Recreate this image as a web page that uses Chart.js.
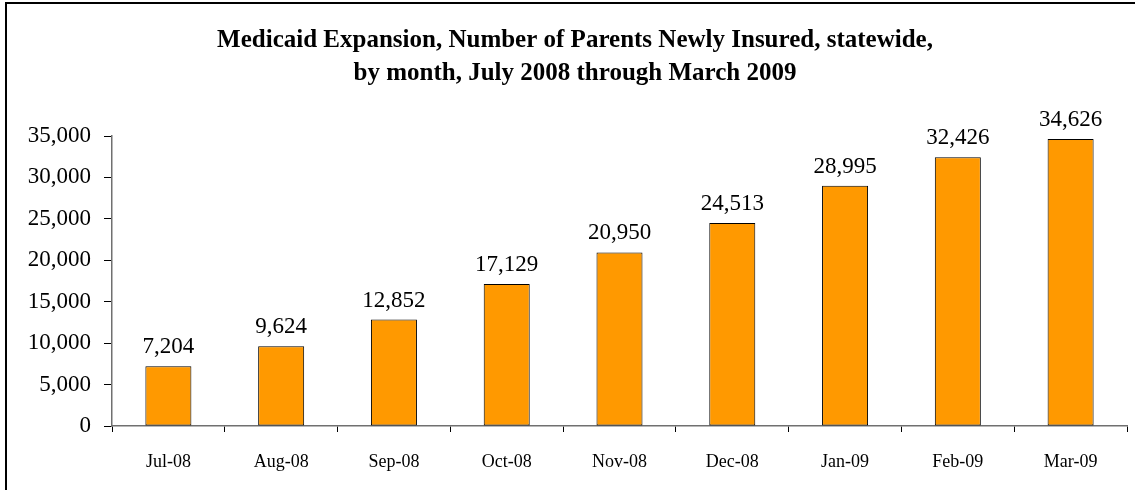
<!DOCTYPE html>
<html>
<head>
<meta charset="utf-8">
<script src="https://cdn.jsdelivr.net/npm/chart.js@4/dist/chart.umd.min.js"></script>
<style>
  html, body { margin: 0; padding: 0; background: #fff; }
  #wrap { position: relative; width: 1135px; height: 490px; }
</style>
</head>
<body>
<div id="wrap"><canvas id="c" width="1135" height="490"></canvas></div>
<script>
const categories = ["Jul-08", "Aug-08", "Sep-08", "Oct-08", "Nov-08", "Dec-08", "Jan-09", "Feb-09", "Mar-09"];
const parentsInsured = [7204, 9624, 12852, 17129, 20950, 24513, 28995, 32426, 34626];
const titleLines = ["Medicaid Expansion, Number of Parents Newly Insured, statewide,", "by month, July 2008 through March 2009"];

const SERIF = "'Liberation Serif', 'Times New Roman', Times, serif";

const frame = {
  id: 'frame',
  beforeDraw(chart) {
    const ctx = chart.ctx;
    ctx.save();
    ctx.fillStyle = '#fff';
    ctx.fillRect(0, 0, chart.width, chart.height);
    ctx.strokeStyle = '#000';
    ctx.lineWidth = 2;
    ctx.beginPath();
    ctx.moveTo(6, chart.height);
    ctx.lineTo(6, 3);
    ctx.lineTo(chart.width, 3);
    ctx.stroke();
    ctx.restore();
  }
};

const valueLabels = {
  id: 'valueLabels',
  afterDatasetsDraw(chart) {
    const ctx = chart.ctx;
    ctx.save();
    ctx.font = "23px " + SERIF;
    ctx.fillStyle = '#000';
    ctx.textAlign = 'center';
    ctx.textBaseline = 'alphabetic';
    const meta = chart.getDatasetMeta(0);
    meta.data.forEach((bar, i) => {
      const v = chart.data.datasets[0].data[i];
      ctx.fillText(v.toLocaleString('en-US'), bar.x, bar.y - 13);
    });
    ctx.restore();
  }
};

new Chart(document.getElementById('c'), {
  type: 'bar',
  data: {
    labels: categories,
    datasets: [{
      data: parentsInsured,
      backgroundColor: '#FF9900',
      borderColor: '#000',
      borderWidth: 1,
      borderSkipped: false,
      barPercentage: 0.408,
      categoryPercentage: 1.0
    }]
  },
  options: {
    responsive: false,
    animation: false,
    devicePixelRatio: 1,
    layout: { padding: { left: 23, right: 8, top: 0, bottom: 0 } },
    plugins: {
      legend: { display: false },
      tooltip: { enabled: false },
      title: {
        display: true,
        text: titleLines,
        color: '#000',
        font: { family: SERIF, size: 25, weight: 'bold', lineHeight: 33 / 25 },
        padding: { top: 24, bottom: 46 }
      }
    },
    scales: {
      x: {
        afterFit(scale) { scale.height = 64; },
        grid: {
          display: true,
          offset: true,
          drawOnChartArea: false,
          drawTicks: true,
          tickLength: 6,
          tickColor: '#000',
          tickWidth: 1
        },
        border: { display: true, color: '#707070', width: 1.5 },
        ticks: {
          color: '#000',
          font: { family: SERIF, size: 18 },
          padding: 19,
          maxRotation: 0,
          autoSkip: false
        }
      },
      y: {
        min: 0,
        max: 35000,
        afterFit(scale) { scale.width = 89; },
        grid: {
          display: true,
          drawOnChartArea: false,
          drawTicks: true,
          tickLength: 8,
          tickColor: '#000',
          tickWidth: 1
        },
        border: { display: true, color: '#707070', width: 1.5 },
        ticks: {
          stepSize: 5000,
          color: '#000',
          font: { family: SERIF, size: 23 },
          padding: 13,
          callback: (v) => v.toLocaleString('en-US')
        }
      }
    }
  },
  plugins: [frame, valueLabels]
});
</script>
</body>
</html>
